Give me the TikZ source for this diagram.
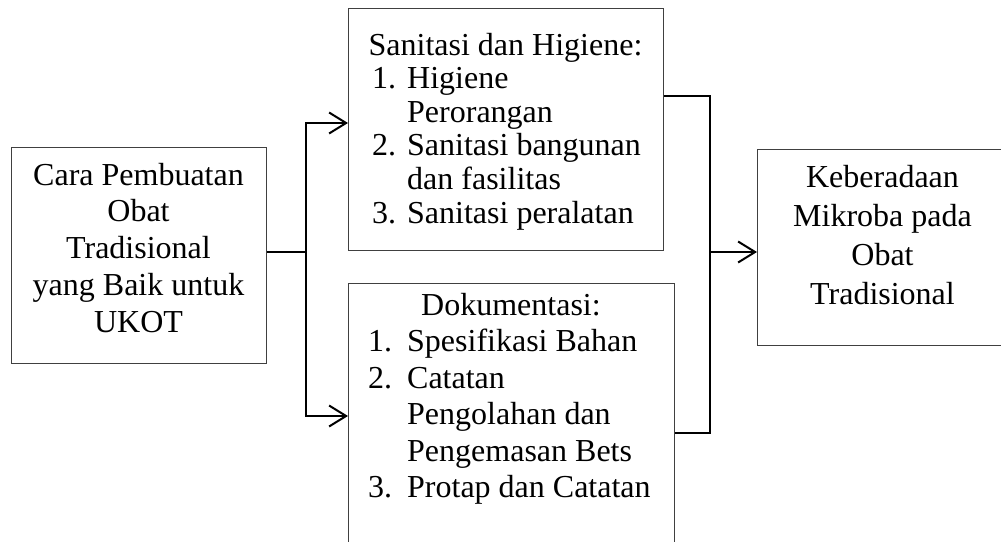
\documentclass[tikz,border=0pt]{standalone}
\usepackage{fontspec}
\setmainfont{Liberation Serif}
\usetikzlibrary{arrows.meta}
\begin{document}
\begin{tikzpicture}[x=1pt,y=-1pt,
  box/.style={draw=black!75, line width=1.2pt, inner sep=0pt, anchor=north west},
  conn/.style={draw=black, line width=2pt},
  arr/.style={conn, -{Straight Barb[length=17pt,width=21pt,line width=2pt]}},
  txt/.style={inner sep=0pt, anchor=base},
  txtl/.style={inner sep=0pt, anchor=base west}
]
\useasboundingbox (0,0) rectangle (1001,541);

% boxes
\node[box, minimum width=255pt, minimum height=216pt] (L) at (11,147) {};
\node[box, minimum width=315pt, minimum height=242pt] (S) at (348,8) {};
\node[box, minimum width=326pt, minimum height=280pt] (D) at (348,283) {};
\node[box, minimum width=251pt, minimum height=196pt] (K) at (757,149) {};

% texts
\node[txt, font=\fontsize{32}{36.75}\selectfont] (Lt) at (138.5,185)
  {\begin{tabular}[t]{@{}c@{}}Cara Pembuatan\\Obat\\Tradisional\\yang Baik untuk\\UKOT\end{tabular}};

\node[txt, font=\fontsize{32}{33.6}\selectfont] (Sh) at (505.5,55) {Sanitasi dan Higiene:};
\node[txtl, font=\fontsize{32}{33.6}\selectfont] (Sl) at (372,88.6)
  {\begin{tabular}[t]{@{}l@{}}\makebox[35pt][l]{1.}Higiene\\\hspace*{35pt}Perorangan\\\makebox[35pt][l]{2.}Sanitasi bangunan\\\hspace*{35pt}dan fasilitas\\\makebox[35pt][l]{3.}Sanitasi peralatan\end{tabular}};

\node[txt, font=\fontsize{32}{36.5}\selectfont] (Dh) at (511,315) {Dokumentasi:};
\node[txtl, font=\fontsize{32}{36.5}\selectfont] (Dl) at (368,351.5)
  {\begin{tabular}[t]{@{}l@{}}\makebox[39pt][l]{1.}Spesifikasi Bahan\\\makebox[39pt][l]{2.}Catatan\\\hspace*{39pt}Pengolahan dan\\\hspace*{39pt}Pengemasan Bets\\\makebox[39pt][l]{3.}Protap dan Catatan\end{tabular}};

\node[txt, font=\fontsize{32}{39.3}\selectfont] (Kt) at (882.5,187)
  {\begin{tabular}[t]{@{}c@{}}Keberadaan\\Mikroba pada\\Obat\\Tradisional\end{tabular}};

% connectors
\coordinate (j1) at (306,252);
\coordinate (j1t) at (306,123);
\coordinate (j1b) at (306,416);
\coordinate (j2) at (710,252);
\coordinate (s2) at (663,96);
\coordinate (d2) at (674,433);

\draw[conn] (L.east |- j1) -- (j1);
\draw[arr] (j1) -- (j1t) -- (S.west |- j1t);
\draw[arr] (j1) -- (j1b) -- (D.west |- j1b);
\draw[conn] (S.east |- s2) -| (j2);
\draw[conn] (D.east |- d2) -| (j2);
\draw[arr] (j2) -- (K.west |- j2);
\end{tikzpicture}
\end{document}
